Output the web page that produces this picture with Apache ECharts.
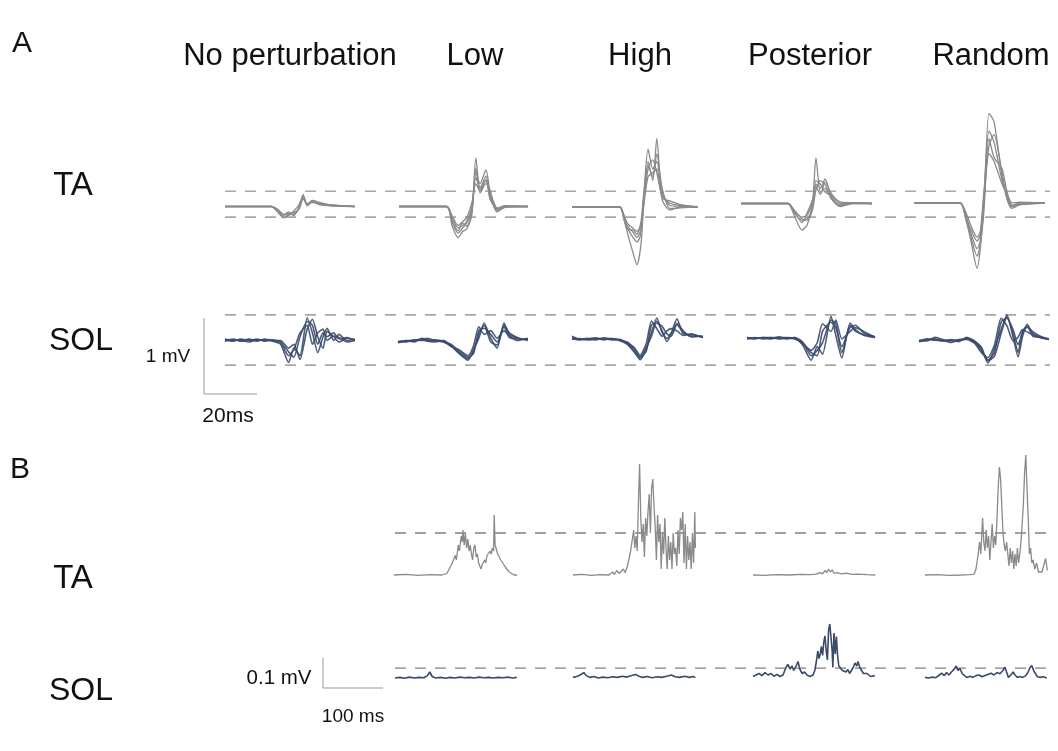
<!DOCTYPE html>
<html><head><meta charset="utf-8">
<script src="https://cdn.jsdelivr.net/npm/echarts@6/dist/echarts.min.js"></script>
<style>html,body{margin:0;padding:0;background:#fff}#c{width:1058px;height:751px}</style>
</head><body><div id="c"></div>
<script>
// ---------- labels ----------
const conditions = ['No perturbation', 'Low', 'High', 'Posterior', 'Random'];
const muscles = ['TA', 'SOL'];
const panelLetters = ['A', 'B'];
const scaleLabelsA = ['1 mV', '20ms'];
const scaleLabelsB = ['0.1 mV', '100 ms'];
const scaleA = [20, 1];      // ms, mV
const scaleB = [100, 0.1];   // ms, mV

// ---------- thresholds (dashed lines, mV) ----------
const aTaBand = [0.18, -0.16];
const aSolBand = [0.33, -0.33];
const bTaThr = 0.15;
const bSolThr = 0.043;

// ---------- Panel A, TA (time ms, mV) ----------
const taNoPertT = [0,17.5,20,22,24,26,28,29.5,31,33,36,40,49];
const taNoPert = [
  [0,0,-0.08,-0.15,-0.1,-0.1,-0.02,0.16,0.02,0.07,0.03,0.01,0],
  [0,0,-0.05,-0.12,-0.07,-0.12,0.0,0.12,0.04,0.05,0.04,0.02,0],
  [0,0,-0.06,-0.14,-0.12,-0.06,0.03,0.14,0.01,0.06,0.02,0.01,0],
  [0,0,-0.04,-0.10,-0.09,-0.08,-0.03,0.10,0.03,0.08,0.05,0.02,0]
];
const taLowT = [0,18,20,22.3,24,25.5,27.5,29,30.6,32.8,34.3,35.5,37,40,48.7];
const taLow = [
  [0,0,-0.25,-0.41,-0.33,-0.3,-0.1,0.64,0.22,0.35,0.15,0.06,-0.04,0.0,0],
  [0,0,-0.2,-0.35,-0.28,-0.22,-0.05,0.45,0.3,0.48,0.2,0.04,-0.05,0.0,0],
  [0,0,-0.15,-0.28,-0.25,-0.2,0.0,0.38,0.25,0.4,0.12,0.02,-0.07,-0.01,0],
  [0,0,-0.18,-0.32,-0.22,-0.26,-0.08,0.5,0.18,0.3,0.22,0.08,-0.02,0.01,0],
  [0,0,-0.12,-0.25,-0.2,-0.15,0.05,0.3,0.2,0.35,0.1,0.03,-0.03,0,0]
];
const taHighT = [0,18,19.5,21,23,24.5,26,27,28.7,30.5,32,34,37,41,47.5];
const taHigh = [
  [0,0,-0.15,-0.35,-0.6,-0.76,-0.5,0.0,0.6,0.35,0.9,0.1,-0.04,0.0,0],
  [0,0,-0.12,-0.28,-0.4,-0.46,-0.35,0.1,0.76,0.5,0.6,0.2,0.02,0.01,0],
  [0,0,-0.1,-0.25,-0.33,-0.4,-0.3,0.05,0.5,0.62,0.45,0.15,0.05,0.02,0],
  [0,0,-0.14,-0.3,-0.3,-0.36,-0.2,0.15,0.55,0.4,0.7,0.25,-0.02,-0.01,0],
  [0,0,-0.1,-0.22,-0.28,-0.32,-0.25,0.0,0.4,0.45,0.5,0.12,0.08,0.03,0]
];
const taPostT = [0,17.7,20,23,25,27,28.3,30,31.7,34.3,37.4,42,49.4];
const taPost = [
  [0,0,-0.15,-0.35,-0.28,0.0,0.6,0.15,0.2,0.05,-0.03,0,0],
  [0,0,-0.12,-0.22,-0.2,-0.05,0.25,0.2,0.32,0.08,-0.02,0.01,0],
  [0,0,-0.1,-0.18,-0.15,0.02,0.3,0.25,0.15,0.1,0.0,0.01,0],
  [0,0,-0.08,-0.2,-0.22,-0.08,0.18,0.3,0.25,0.06,-0.04,0,0],
  [0,0,-0.1,-0.25,-0.12,0.05,0.22,0.12,0.28,0.12,0.02,0.01,0]
];
const taRandT = [0,17.4,19.5,21.5,23.8,25,26.4,28.3,30.2,33.2,35.1,37,40,49.4];
const taRand = [
  [0,0,-0.2,-0.5,-0.86,-0.6,0.0,1.18,1.07,0.35,0.05,-0.07,-0.02,0],
  [0,0,-0.15,-0.4,-0.6,-0.5,0.1,0.95,0.8,0.3,0.1,-0.03,0.0,0],
  [0,0,-0.18,-0.35,-0.5,-0.42,0.05,0.75,0.9,0.4,0.08,-0.05,-0.01,0],
  [0,0,-0.12,-0.3,-0.45,-0.38,0.15,0.65,0.55,0.25,0.12,0.0,0.01,0],
  [0,0,-0.2,-0.45,-0.7,-0.55,-0.1,0.85,0.6,0.45,0.15,-0.04,-0.02,0]
];

// ---------- Panel A, SOL ----------
const solNoPertT = [0,3,6,9,12,15,18,21,24,26,28.3,31,33,35,37,38.5,41,43,46,49];
const solNoPert = [
  [0,0.02,-0.01,0.02,0,0.01,-0.01,-0.05,-0.29,-0.1,-0.2,0.3,0.1,-0.16,0.05,0.16,0.0,0.08,0.0,0.02],
  [0.01,-0.01,0.02,0,0.02,-0.01,0.01,-0.02,-0.15,-0.22,0.05,0.25,0.2,-0.05,0.1,0.05,0.1,0.02,0.04,0],
  [-0.01,0.01,0,-0.02,0.01,0,0,0,-0.1,-0.05,-0.25,0.15,0.28,0.05,-0.1,0.12,0.05,-0.02,0.03,0.01],
  [0.02,0,0.01,0.01,-0.01,0.02,0,-0.03,-0.2,-0.12,0.1,0.2,-0.05,0.1,0.15,0.0,0.06,0.04,-0.02,0]
];
const solLowT = [0,3,6,9,11,14,17,20,23,26.4,28.5,30.5,32.5,35,37.4,40,42,45,49];
const solLow = [
  [0,0.02,0.01,0.05,0.03,0.01,0.02,-0.05,-0.15,-0.24,-0.1,0.05,0.25,0.05,-0.08,0.25,0.1,0.05,0.03],
  [0.01,0,0.02,0.03,0.05,0.02,0,-0.03,-0.12,-0.2,-0.15,0.15,0.18,0.1,0.0,0.2,0.06,0.04,0.04],
  [-0.01,0.01,0.03,0.02,0.02,0.03,0.01,-0.06,-0.1,-0.18,-0.05,0.2,0.1,0.15,0.05,0.15,0.08,0.02,0.05],
  [0,0.02,0,0.04,0.01,0,0.02,-0.04,-0.14,-0.22,-0.12,0.1,0.22,0.0,-0.04,0.22,0.12,0.06,0.02]
];
const solHighT = [0,3,6,9,12,15,18,21,23.5,25.7,28,30,32,34,35.8,37.5,39.6,42,45,49.4];
const solHigh = [
  [0.05,0.01,0.02,0.0,0.03,0.01,0.0,-0.05,-0.15,-0.26,-0.12,0.1,0.29,0.1,0.02,0.1,0.28,0.08,0.07,0.04],
  [0.02,0,0.01,0.03,0.01,0.02,0.0,-0.03,-0.12,-0.22,-0.15,0.2,0.22,0.18,0.08,0.05,0.2,0.1,0.05,0.05],
  [0.01,0.02,0,0.01,0.02,0,0.01,-0.04,-0.1,-0.2,-0.05,0.25,0.15,0.05,0.12,0.15,0.12,0.06,0.08,0.03],
  [0.03,0.01,0.02,0.02,0.0,0.02,-0.01,-0.06,-0.16,-0.24,-0.1,0.05,0.25,0.12,-0.02,0.08,0.22,0.12,0.04,0.05]
];
const solPostT = [0,3,6,9,12,15,18,21,24.2,26.5,28.5,31.7,33.5,35.8,38.9,41,44,48.3];
const solPost = [
  [0.02,0.0,0.02,0.01,0.03,0.0,0.02,-0.08,-0.28,-0.1,-0.2,0.3,0.05,-0.25,0.21,0.12,0.05,0.02],
  [0.01,0.02,0.0,0.02,0.01,0.01,0.0,-0.05,-0.18,-0.22,0.1,0.22,0.15,-0.1,0.15,0.18,0.08,0.03],
  [0.0,0.01,0.01,0.0,0.02,0.02,0.01,-0.06,-0.15,-0.05,0.2,0.1,0.25,0.0,0.1,0.15,0.1,0.02],
  [0.02,0.01,0.02,0.02,0.0,0.01,0.02,-0.04,-0.22,-0.15,-0.05,0.25,0.2,-0.18,0.18,0.1,0.06,0.03]
];
const solRandT = [0,3,6,9,12,15,18,21,23.5,26,28.5,31,33.2,35.5,37.4,39,40.8,43,46,49];
const solRand = [
  [0,0.02,0.03,0.0,0.01,-0.01,0.05,0,-0.1,-0.29,-0.1,0.15,0.34,0.05,-0.21,0.05,0.22,0.1,0.04,0.03],
  [0.01,0.0,0.05,0.02,0.0,0.02,0.03,-0.02,-0.12,-0.25,-0.15,0.25,0.3,0.15,-0.05,0.1,0.18,0.12,0.06,0.02],
  [-0.01,0.01,0.02,0.01,-0.02,0.01,0.02,-0.03,-0.15,-0.22,-0.05,0.3,0.2,0.0,0.05,0.15,0.12,0.08,0.05,0.03],
  [0.0,0.03,0.01,0.0,0.02,0.0,0.04,-0.01,-0.08,-0.26,-0.2,0.1,0.32,0.1,-0.15,0.12,0.2,0.06,0.05,0.02]
];

// ---------- Panel B, rectified EMG [ms, mV] ----------
const bTaLow = [[0,0.01],[20,0.012],[40,0.009],[60,0.011],[80,0.01],[88,0.015],[92,0.03],[96,0.045],[99,0.04],[102,0.075],[104,0.06],[107,0.11],[109,0.09],[112,0.14],[114,0.12],[115,0.16],[117,0.11],[119,0.15],[121,0.1],[123,0.13],[125,0.09],[127,0.11],[129,0.08],[131,0.06],[133,0.1],[135,0.11],[137,0.07],[139,0.08],[141,0.05],[143,0.04],[145,0.03],[147,0.045],[149,0.04],[151,0.06],[153,0.05],[155,0.075],[157,0.07],[160,0.09],[162,0.08],[164,0.1],[166,0.09],[167,0.21],[168.5,0.11],[170,0.1],[172,0.085],[174,0.075],[176,0.07],[178,0.06],[180,0.055],[183,0.045],[186,0.035],[189,0.03],[192,0.02],[196,0.015],[200,0.01],[205,0.01]];
const bTaHigh = [[0,0.01],[15,0.012],[30,0.009],[45,0.011],[60,0.01],[66,0.02],[69,0.012],[73,0.025],[77,0.015],[80,0.02],[84,0.03],[87,0.018],[90,0.035],[93,0.06],[96,0.09],[99,0.13],[101,0.16],[103,0.1],[105,0.14],[107,0.09],[109,0.25],[111,0.38],[113,0.2],[115,0.12],[117,0.18],[119,0.07],[121,0.2],[123,0.14],[125,0.22],[127,0.28],[129,0.15],[131,0.3],[133,0.33],[135,0.24],[137,0.17],[139,0.06],[141,0.21],[143,0.12],[145,0.18],[147,0.03],[149,0.15],[151,0.08],[153,0.2],[155,0.1],[157,0.03],[159,0.14],[161,0.06],[163,0.12],[165,0.03],[167,0.15],[169,0.08],[171,0.1],[173,0.04],[175,0.16],[177,0.08],[179,0.2],[181,0.16],[183,0.22],[185,0.05],[187,0.18],[189,0.03],[191,0.14],[193,0.06],[195,0.12],[197,0.03],[199,0.15],[201,0.05],[203,0.22],[204,0.1]];
const bTaPost = [[0,0.01],[20,0.009],[40,0.011],[60,0.01],[80,0.012],[95,0.011],[105,0.013],[112,0.018],[116,0.014],[120,0.025],[123,0.018],[126,0.03],[129,0.02],[132,0.027],[135,0.015],[140,0.018],[148,0.014],[155,0.016],[165,0.012],[175,0.013],[190,0.011],[204,0.01]];
const bTaRand = [[0,0.01],[20,0.011],[40,0.009],[60,0.01],[75,0.011],[82,0.013],[85,0.03],[88,0.07],[91,0.12],[93,0.08],[96,0.2],[98,0.12],[100,0.09],[102,0.16],[104,0.1],[106,0.14],[108,0.06],[110,0.12],[112,0.18],[114,0.1],[116,0.14],[118,0.11],[120,0.2],[122,0.3],[124,0.37],[126,0.33],[128,0.24],[130,0.15],[132,0.11],[134,0.09],[136,0.12],[138,0.08],[140,0.04],[142,0.1],[144,0.05],[146,0.09],[148,0.03],[150,0.08],[152,0.04],[154,0.1],[156,0.05],[158,0.08],[160,0.12],[162,0.18],[164,0.25],[166,0.35],[168,0.41],[170,0.3],[172,0.2],[174,0.08],[176,0.1],[178,0.05],[180,0.06],[183,0.03],[186,0.05],[189,0.02],[192,0.015],[195,0.02],[198,0.02],[201,0.065],[204,0.025]];

const bSolLow = [[0,0.01],[8,0.012],[16,0.009],[24,0.013],[32,0.01],[40,0.012],[48,0.011],[54,0.018],[58,0.03],[62,0.015],[68,0.01],[76,0.012],[84,0.009],[92,0.012],[100,0.01],[108,0.013],[116,0.011],[124,0.012],[132,0.01],[140,0.013],[148,0.011],[156,0.012],[164,0.01],[172,0.012],[180,0.011],[188,0.013],[196,0.01],[203,0.012]];
const bSolHigh = [[0,0.012],[6,0.015],[12,0.02],[18,0.028],[22,0.018],[28,0.012],[35,0.015],[42,0.01],[50,0.013],[58,0.011],[66,0.014],[74,0.012],[82,0.016],[90,0.013],[98,0.018],[104,0.022],[110,0.016],[116,0.012],[124,0.015],[132,0.011],[140,0.014],[148,0.012],[156,0.016],[164,0.02],[170,0.014],[178,0.012],[186,0.016],[194,0.012],[200,0.015],[204,0.012]];
const bSolPost = [[0,0.015],[5,0.02],[10,0.025],[15,0.018],[20,0.028],[25,0.02],[30,0.025],[35,0.016],[40,0.022],[45,0.015],[50,0.02],[55,0.045],[58,0.055],[62,0.04],[65,0.05],[68,0.035],[70,0.03],[73,0.055],[75,0.065],[78,0.04],[82,0.025],[86,0.03],[90,0.02],[95,0.015],[100,0.02],[103,0.035],[106,0.07],[108,0.1],[110,0.075],[112,0.09],[114,0.115],[116,0.085],[118,0.13],[120,0.15],[122,0.1],[124,0.07],[126,0.17],[128,0.19],[130,0.192],[132,0.1],[133,0.045],[135,0.16],[137,0.09],[139,0.148],[141,0.085],[143,0.05],[146,0.055],[149,0.035],[152,0.04],[155,0.03],[158,0.038],[161,0.025],[164,0.03],[167,0.045],[170,0.06],[173,0.05],[175,0.065],[178,0.045],[181,0.035],[184,0.025],[187,0.02],[190,0.025],[193,0.03],[196,0.015],[199,0.02],[203,0.018]];
const bSolRand = [[0,0.012],[6,0.01],[12,0.013],[18,0.011],[24,0.02],[28,0.026],[32,0.018],[36,0.028],[40,0.02],[44,0.03],[48,0.038],[52,0.05],[55,0.035],[58,0.042],[62,0.025],[66,0.018],[70,0.012],[75,0.016],[80,0.012],[85,0.018],[90,0.02],[95,0.014],[100,0.018],[105,0.022],[110,0.026],[115,0.02],[120,0.028],[125,0.024],[130,0.035],[133,0.046],[136,0.03],[139,0.012],[143,0.02],[147,0.03],[150,0.02],[154,0.012],[158,0.015],[163,0.012],[168,0.018],[172,0.03],[175,0.045],[178,0.052],[181,0.035],[184,0.03],[187,0.015],[192,0.012],[197,0.014],[203,0.01]];

// ---------- layout (pixels) ----------
const TA_GREY = '#8a8a8a';
const SOL_NAVY = '#3b4a6b';
const DASH_A = '#a8a8a8';
const DASH_B = '#808080';
const FONT = '"Liberation Sans", Arial, sans-serif';

const grids = [], xAxes = [], yAxes = [], series = [];
function panel(box, xr, yr) {
  const i = grids.length;
  grids.push({ left: box.left, top: box.zero - yr[1] * box.py, width: (xr[1] - xr[0]) * box.px, height: (yr[1] - yr[0]) * box.py, containLabel: false, show: false });
  xAxes.push({ type: 'value', gridIndex: i, min: xr[0], max: xr[1], show: false });
  yAxes.push({ type: 'value', gridIndex: i, min: yr[0], max: yr[1], show: false });
  return i;
}
function line(gi, data, color, width, dash, opacity, smooth) {
  series.push({
    type: 'line', xAxisIndex: gi, yAxisIndex: gi, data: data, symbol: 'none', silent: true,
    clip: false, animation: false, smooth: smooth || false,
    lineStyle: { color: color, width: width, type: dash || 'solid', opacity: opacity == null ? 1 : opacity }
  });
}
const zip = (t, v) => t.map((x, k) => [x, v[k]]);

// Panel A
const aPx = 2.65, aPy = 76;
const aTaStarts = [225, 399, 572, 741, 914], aTaZero = [206.5, 206.5, 207, 203.5, 203];
const aSolStarts = [225, 398, 572, 747, 919], aSolZero = [340.5, 342, 340, 339, 341];
const aTaT = [taNoPertT, taLowT, taHighT, taPostT, taRandT];
const aTaV = [taNoPert, taLow, taHigh, taPost, taRand];
const aSolT = [solNoPertT, solLowT, solHighT, solPostT, solRandT];
const aSolV = [solNoPert, solLow, solHigh, solPost, solRand];

// dashed bands A (continuous across the row)
let g = panel({ left: 225, zero: 205, px: 825, py: aPy }, [0, 1], [-1, 1.4]);
aTaBand.forEach(v => line(g, [[0, v], [1, v]], DASH_A, 1.6, [11, 9]));
g = panel({ left: 225, zero: 340, px: 825, py: aPy }, [0, 1], [-0.6, 0.6]);
aSolBand.forEach(v => line(g, [[0, v], [1, v]], DASH_A, 1.6, [11, 9]));

for (let c = 0; c < 5; c++) {
  g = panel({ left: aTaStarts[c], zero: aTaZero[c], px: aPx, py: aPy }, [0, 50], [-1, 1.4]);
  aTaV[c].forEach(tr => line(g, zip(aTaT[c], tr), TA_GREY, 1.3, null, 1, 0.25));
  g = panel({ left: aSolStarts[c], zero: aSolZero[c], px: aPx, py: aPy }, [0, 50], [-0.6, 0.6]);
  aSolV[c].forEach(tr => line(g, zip(aSolT[c], tr), SOL_NAVY, 1.6, null, 0.9, 0.2));
}
// scale bar A
g = panel({ left: 204, zero: 394, px: aPx, py: aPy }, [0, scaleA[0]], [0, scaleA[1]]);
line(g, [[0, scaleA[1]], [0, 0], [scaleA[0], 0]], '#999', 1);

// Panel B
const bPx = 0.6, bPy = 300;
const bTaStarts = [394, 573, 753, 925], bSolStarts = [395, 573, 753, 925];
const bTa = [bTaLow, bTaHigh, bTaPost, bTaRand];
const bSol = [bSolLow, bSolHigh, bSolPost, bSolRand];
g = panel({ left: 395, zero: 578, px: 655, py: bPy }, [0, 1], [0, 0.45]);
line(g, [[0, bTaThr], [1, bTaThr]], DASH_B, 1.3, [11, 9]);
g = panel({ left: 395, zero: 681, px: 652, py: bPy }, [0, 1], [0, 0.25]);
line(g, [[0, bSolThr], [1, bSolThr]], DASH_B, 1.3, [11, 9]);
for (let c = 0; c < 4; c++) {
  g = panel({ left: bTaStarts[c], zero: 578, px: bPx, py: bPy }, [0, 205], [0, 0.45]);
  line(g, bTa[c], TA_GREY, 1.3);
  g = panel({ left: bSolStarts[c], zero: 681, px: bPx, py: bPy }, [0, 205], [0, 0.25]);
  line(g, bSol[c], SOL_NAVY, 1.6);
}
// scale bar B
g = panel({ left: 323, zero: 688, px: bPx, py: bPy }, [0, scaleB[0]], [0, scaleB[1]]);
line(g, [[0, scaleB[1]], [0, 0], [scaleB[0], 0]], '#999', 1);

// ---------- texts ----------
function txt(s, x, y, size, align) {
  return { type: 'text', x: x, y: y, silent: true,
    style: { text: s, fill: '#111', font: size + 'px ' + FONT, textAlign: align || 'center', textVerticalAlign: 'middle' } };
}
const titleX = [290, 475, 640, 810, 991];
const graphics = [
  txt(panelLetters[0], 12, 44, 30, 'left'),
  txt(panelLetters[1], 10, 470, 30, 'left'),
  txt(muscles[0], 73, 186, 33), txt(muscles[1], 81, 341, 32),
  txt(muscles[0], 73, 579, 33), txt(muscles[1], 81, 691, 32),
  txt(scaleLabelsA[0], 168, 357, 19), txt(scaleLabelsA[1], 228, 416, 21),
  txt(scaleLabelsB[0], 279, 678, 20.5), txt(scaleLabelsB[1], 353, 717, 19)
];
conditions.forEach((s, k) => graphics.push(txt(s, titleX[k], 56, 31)));

const chart = echarts.init(document.getElementById('c'), null, { renderer: 'canvas' });
chart.setOption({
  animation: false, backgroundColor: '#fff',
  grid: grids, xAxis: xAxes, yAxis: yAxes, series: series, graphic: graphics
});
</script></body></html>
